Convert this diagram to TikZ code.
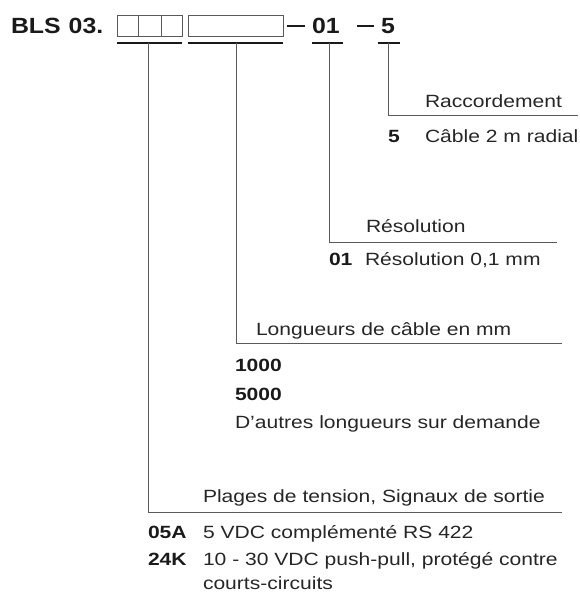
\documentclass[tikz,border=0pt]{standalone}
\usepackage{fontspec}
\setmainfont{Liberation Sans}[FakeStretch=1.19]
\newfontfamily\hdfont{Liberation Sans}[FakeStretch=1.13]
\definecolor{txtgray}{HTML}{262626}
\definecolor{linegray}{HTML}{5A5A5A}
\definecolor{boldblack}{HTML}{1A1A1A}
\newcommand{\bodyfnt}{\fontsize{17.7pt}{21pt}\selectfont}
\newcommand{\headfnt}{\hdfont\bfseries\fontsize{22pt}{26pt}\selectfont}
\tikzset{
  lbl/.style={anchor=base west, inner sep=0pt, outer sep=0pt, font=\bodyfnt, text=txtgray},
  bld/.style={anchor=base west, inner sep=0pt, outer sep=0pt, font=\bodyfnt\bfseries, text=boldblack},
  head/.style={anchor=base west, inner sep=0pt, outer sep=0pt, font=\headfnt, text=boldblack},
  thinln/.style={draw=linegray, line width=0.9pt},
  boxln/.style={draw=linegray, line width=0.9pt},
  barln/.style={draw=boldblack, line width=2.6pt},
  dashln/.style={draw=boldblack, line width=2.4pt}
}
\begin{document}
\begin{tikzpicture}[x=1pt,y=-1pt]
\useasboundingbox (0,0) rectangle (580,592);
% heading
\node[head] (bls) at (11,33.5) {BLS\hspace{8pt}03.};
\draw[boxln] (117,15) rectangle (182,36);
\draw[boxln] (138,15) -- (138,36);
\draw[boxln] (161,15) -- (161,36);
\draw[boxln] (188,15) rectangle (283,36);
\draw[dashln] (287,26) -- (305,26);
\node[head] (res) at (312,33.5) {01};
\draw[dashln] (357,26) -- (374,26);
\node[head] (rac) at (381,33.5) {5};
% underline bars
\draw[barln] (117,43) -- (182,43);
\draw[barln] (188,43) -- (283,43);
\draw[barln] (312,43) -- (343,43);
\draw[barln] (378,43) -- (400,43);
% connector coordinates
\coordinate (u1) at (148,43); \coordinate (c1) at (148,512); \coordinate (e1) at (562,512);
\coordinate (u2) at (236,43); \coordinate (c2) at (236,343); \coordinate (e2) at (562,343);
\coordinate (u3) at (329,43); \coordinate (c3) at (329,242); \coordinate (e3) at (557,242);
\coordinate (u4) at (388,43); \coordinate (c4) at (388,115); \coordinate (e4) at (578,115);
\draw[thinln] (u1) -- (c1) -- (e1);
\draw[thinln] (u2) -- (c2) -- (e2);
\draw[thinln] (u3) -- (c3) -- (e3);
\draw[thinln] (u4) -- (c4) -- (e4);
% Raccordement
\node[lbl] (t4) at (425,107) {Raccordement};
\node[bld] (k4) at (388,142) {5};
\node[lbl] (d4) at (425,142) {Câble 2 m radial};
% Resolution
\node[lbl] (t3) at (366,232) {Résolution};
\node[bld] (k3) at (329,265) {01};
\node[lbl] (d3) at (365,265) {Résolution 0,1 mm};
% Longueurs
\node[lbl] (t2) at (256,335) {Longueurs de câble en mm};
\node[bld] (k2a) at (235,371) {1000};
\node[bld] (k2b) at (235,400) {5000};
\node[lbl] (d2) at (235,428) {D'autres longueurs sur demande};
% Plages
\node[lbl] (t1) at (203,502) {Plages de tension, Signaux de sortie};
\node[bld] (k1a) at (148,538) {05A};
\node[lbl] (d1a) at (203,538) {5 VDC complémenté RS 422};
\node[bld] (k1b) at (148,565) {24K};
\node[lbl] (d1b) at (203,565) {10 - 30 VDC push-pull, protégé contre};
\node[lbl] (d1c) at (203,589) {courts-circuits};
\end{tikzpicture}
\end{document}
